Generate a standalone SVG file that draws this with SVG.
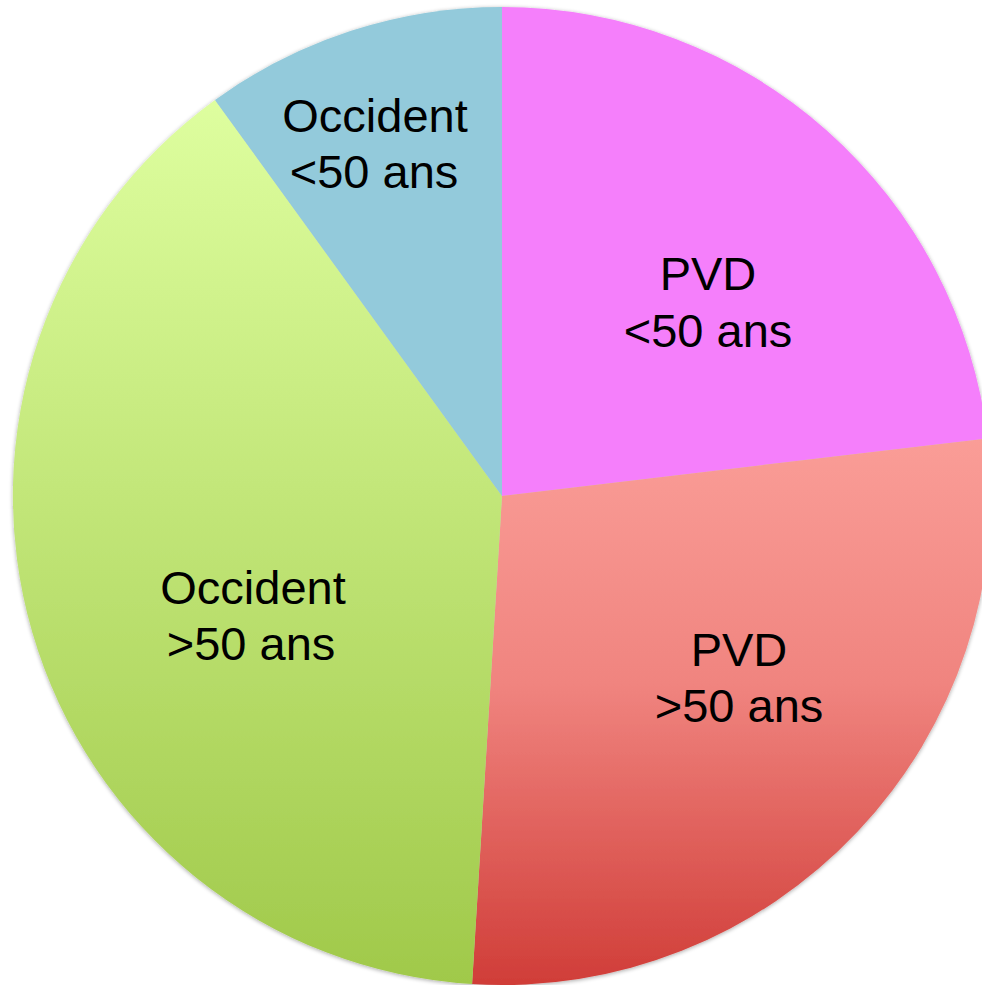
<svg xmlns="http://www.w3.org/2000/svg" width="982" height="985" viewBox="0 0 982 985">
<style>
.lbl{font-family:"Liberation Sans",Arial,sans-serif;font-size:47px;fill:#000;text-anchor:middle}
</style>
<defs>
<linearGradient id="gRed" x1="0" y1="0" x2="0" y2="1">
<stop offset="0" stop-color="#FA9D97"/>
<stop offset="0.45" stop-color="#F0847F"/>
<stop offset="1" stop-color="#D03D38"/>
</linearGradient>
<linearGradient id="gGreen" x1="0" y1="0" x2="0" y2="1">
<stop offset="0" stop-color="#DEFE9F"/>
<stop offset="1" stop-color="#A0C94A"/>
</linearGradient>
<filter id="sh" x="-5%" y="-5%" width="110%" height="110%">
<feGaussianBlur in="SourceAlpha" stdDeviation="2"/>
<feOffset dx="0" dy="1"/>
<feComponentTransfer><feFuncA type="linear" slope="0.35"/></feComponentTransfer>
<feMerge><feMergeNode/><feMergeNode in="SourceGraphic"/></feMerge>
</filter>
</defs>
<rect width="982" height="985" fill="#fff"/>
<g filter="url(#sh)">
<g id="pvd-lt50">
<path d="M502,496 L502,7 A489,489 0 0 1 987.6,438.4 Z" fill="#F57FFB"/>
</g>
<g id="pvd-gt50">
<path d="M502,496 L987.6,438.4 A489,489 0 0 1 472.1,984.1 Z" fill="url(#gRed)"/>
</g>
<g id="occ-gt50">
<path d="M502,496 L472.1,984.1 A489,489 0 0 1 215,100 Z" fill="url(#gGreen)"/>
</g>
<g id="occ-lt50">
<path d="M502,496 L215,100 A489,489 0 0 1 502,7 Z" fill="#93CADB"/>
</g>
</g>
<g id="labels">
<text class="lbl" x="375" y="132">Occident</text>
<text class="lbl" x="374" y="188">&lt;50 ans</text>
<text class="lbl" x="708" y="290">PVD</text>
<text class="lbl" x="708" y="347">&lt;50 ans</text>
<text class="lbl" x="253" y="604">Occident</text>
<text class="lbl" x="251" y="660">&gt;50 ans</text>
<text class="lbl" x="739" y="666">PVD</text>
<text class="lbl" x="739" y="722">&gt;50 ans</text>
</g>
</svg>
